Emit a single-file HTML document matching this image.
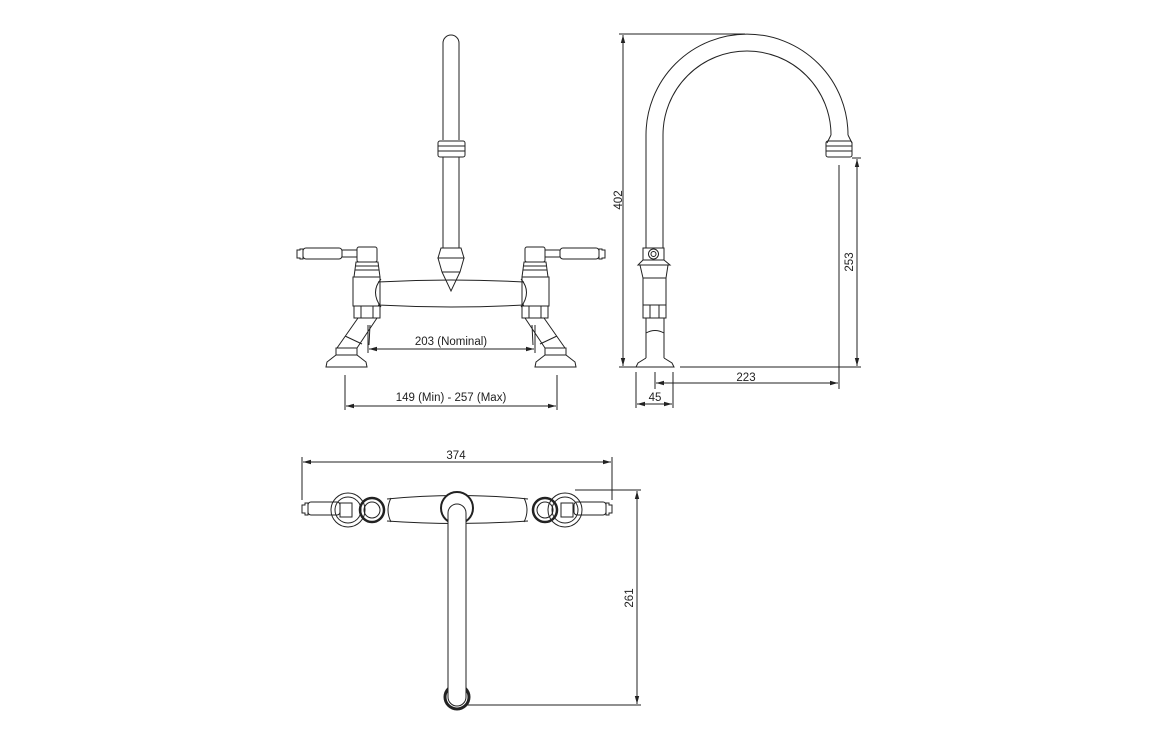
<!DOCTYPE html>
<html><head><meta charset="utf-8"><style>
html,body{margin:0;padding:0;background:#fff;}
svg{display:block;}
text{font-family:"Liberation Sans",sans-serif;font-size:11.5px;fill:#222;}
</style></head><body>
<svg width="1156" height="742" viewBox="0 0 1156 742" xmlns="http://www.w3.org/2000/svg">
<defs>
<marker id="a" markerWidth="8" markerHeight="6" refX="8" refY="3" orient="auto-start-reverse" markerUnits="userSpaceOnUse"><path d="M0,0.8 L8,3 L0,5.2 Z" fill="#222"/></marker>
<g id="valve">
  <!-- handle -->
  <path d="M297,250 h3 v-1 h3 v10 h-3 v-1 h-3 Z" fill="none"/>
  <rect x="303" y="248" width="39" height="11" rx="3"/>
  <rect x="342" y="250" width="15" height="7"/>
  <rect x="357" y="247" width="20" height="15" rx="2"/>
  <path d="M356,262 h22 l2,15 h-26 Z"/>
  <line x1="356" y1="266" x2="378" y2="266"/>
  <line x1="355" y1="270" x2="379" y2="270"/>
  <rect x="353" y="277" width="27" height="29"/>
  <rect x="354" y="306" width="26" height="12"/>
  <line x1="361" y1="306" x2="361" y2="318"/><line x1="373" y1="306" x2="373" y2="318"/>
  <path d="M358,318 L337,348 M377,318 L357,348 M345,336 L362,344 M370,325 L369,345"/>
  <rect x="336" y="348" width="21" height="7"/>
  <path d="M336,355 L327,362 L326,367 L367,367 L366,362 L357,355"/>
</g>
</defs>
<g fill="none" stroke="#222" stroke-width="1">
<!-- FRONT VIEW -->
<use href="#valve"/>
<use href="#valve" transform="translate(902,0) scale(-1,1)"/>
<!-- bridge bar -->
<path d="M378,282 Q451,278 524,282 M378,305 Q451,309 524,305"/>
<path d="M381,279 Q370,292 381,307 M521,279 Q532,292 521,307"/>
<!-- spout -->
<path d="M443,140 V43 A8,8 0 0 1 459,43 V140"/>
<rect x="438" y="141" width="27" height="16" rx="2"/>
<line x1="438" y1="146" x2="465" y2="146"/><line x1="438" y1="151" x2="465" y2="151"/>
<path d="M443,157 V248 M459,157 V248"/>
<path d="M441,248 h20 l3,10 h-26 Z"/>
<path d="M438,258 h26 l-4,14 l-9,19 l-9,-19 Z"/>
<line x1="442" y1="272" x2="460" y2="272"/>
<!-- dims front -->
<line x1="368" y1="325" x2="368" y2="353"/><line x1="535" y1="325" x2="535" y2="353"/>
<line x1="369" y1="349" x2="534" y2="349" marker-start="url(#a)" marker-end="url(#a)"/>
<line x1="345" y1="375" x2="345" y2="410"/><line x1="557" y1="375" x2="557" y2="410"/>
<line x1="346" y1="406" x2="556" y2="406" marker-start="url(#a)" marker-end="url(#a)"/>

<!-- SIDE VIEW -->
<path d="M646,248 V135 A101,101 0 0 1 848,135"/>
<path d="M663,248 V135 A84,84 0 0 1 831,135"/>
<path d="M848,135 L852,143 M831,135 L827,143"/>
<rect x="826" y="141" width="26" height="16" rx="2"/>
<line x1="826" y1="146" x2="852" y2="146"/><line x1="826" y1="151" x2="852" y2="151"/>
<rect x="643" y="248" width="21" height="12"/>
<circle cx="653.5" cy="254" r="5"/><circle cx="653.5" cy="254" r="2.5"/>
<path d="M643,260 L638,265 H670 L664,260"/>
<path d="M640,265 L643,278 V305 M668,265 L666,278 V305"/>
<line x1="643" y1="278" x2="666" y2="278"/>
<rect x="643" y="305" width="23" height="13"/>
<line x1="650" y1="305" x2="650" y2="318"/><line x1="659" y1="305" x2="659" y2="318"/>
<path d="M646,318 V358 M664,318 V358 M646,333 Q655,328 664,333"/>
<path d="M646,358 L638,363 L636,367 H674 L672,363 L664,358"/>
<!-- side dims -->
<line x1="619" y1="34" x2="745" y2="34"/>
<line x1="619" y1="367" x2="640" y2="367"/>
<line x1="623" y1="35" x2="623" y2="366" marker-start="url(#a)" marker-end="url(#a)"/>
<line x1="852" y1="158" x2="861" y2="158"/>
<line x1="680" y1="367" x2="861" y2="367"/>
<line x1="857" y1="159" x2="857" y2="366" marker-start="url(#a)" marker-end="url(#a)"/>
<line x1="839" y1="165" x2="839" y2="389"/>
<line x1="655" y1="372" x2="655" y2="389"/>
<line x1="656" y1="383" x2="838" y2="383" marker-start="url(#a)" marker-end="url(#a)"/>
<line x1="636" y1="372" x2="636" y2="408"/><line x1="673" y1="372" x2="673" y2="408"/>
<line x1="637" y1="404" x2="672" y2="404" marker-start="url(#a)" marker-end="url(#a)"/>

<!-- TOP VIEW -->
<line x1="302" y1="457" x2="302" y2="500"/><line x1="612" y1="457" x2="612" y2="500"/>
<line x1="303" y1="462" x2="611" y2="462" marker-start="url(#a)" marker-end="url(#a)"/>
<!-- left handle/rosette -->
<path d="M302,505 h3 v-2 h3 v12 h-3 v-2 h-3 Z"/>
<rect x="308" y="502" width="32" height="13" rx="3"/>
<circle cx="348" cy="510" r="17"/><circle cx="348" cy="510" r="13"/>
<rect x="340" y="503" width="12" height="14"/>
<circle cx="372" cy="510" r="12" stroke-width="2.5"/><circle cx="372" cy="510" r="8"/>
<!-- right -->
<path d="M612,505 h-3 v-2 h-3 v12 h3 v-2 h3 Z"/>
<rect x="574" y="502" width="32" height="13" rx="3"/>
<circle cx="565" cy="510" r="17"/><circle cx="565" cy="510" r="13"/>
<rect x="561" y="503" width="12" height="14"/>
<circle cx="545" cy="510" r="12" stroke-width="2.5"/><circle cx="545" cy="510" r="8"/>
<!-- bar -->
<path d="M387,499 Q457,492 528,499 M387,521 Q457,526 528,521"/>
<path d="M391,498 Q385,510 391,522 M524,498 Q530,510 524,522"/>
<!-- center spout -->
<circle cx="457" cy="508" r="16" fill="#fff" stroke-width="2"/>
<circle cx="457" cy="697" r="12" stroke-width="3"/>
<path d="M448,513 V697 A9,9 0 0 0 466,697 V513 A9,9 0 0 0 448,513 Z" fill="#fff"/>
<!-- 261 dim -->
<line x1="575" y1="490" x2="641" y2="490"/>
<line x1="465" y1="705" x2="641" y2="705"/>
<line x1="637" y1="491" x2="637" y2="704" marker-start="url(#a)" marker-end="url(#a)"/>
</g>
<text x="451" y="345" text-anchor="middle">203 (Nominal)</text>
<text x="451" y="401" text-anchor="middle">149 (Min) - 257 (Max)</text>
<text x="746" y="381" text-anchor="middle">223</text>
<text x="655" y="401" text-anchor="middle">45</text>
<text x="456" y="459" text-anchor="middle">374</text>
<text transform="translate(622,200) rotate(-90)" text-anchor="middle">402</text>
<text transform="translate(853,262) rotate(-90)" text-anchor="middle">253</text>
<text transform="translate(633,598) rotate(-90)" text-anchor="middle">261</text>
</svg>
</body></html>
